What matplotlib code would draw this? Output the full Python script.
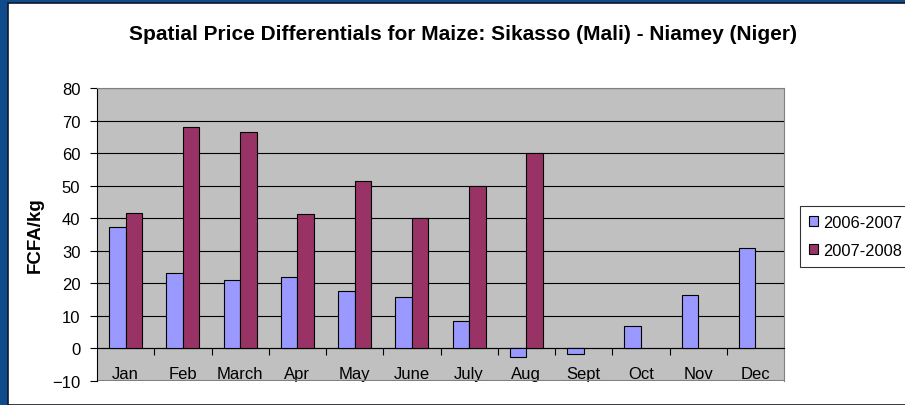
import numpy as np
import matplotlib.pyplot as plt
from matplotlib.patches import Rectangle

# Data
months = ["Jan", "Feb", "March", "Apr", "May", "June", "July", "Aug",
          "Sept", "Oct", "Nov", "Dec"]
season_0607 = [37.3, 23.3, 21.0, 21.9, 17.6, 15.8, 8.3, -2.6, -1.7, 7.0, 16.3, 30.7]
season_0708 = [41.7, 68.1, 66.4, 41.3, 51.3, 40.0, 50.0, 60.0, np.nan, np.nan, np.nan, np.nan]

plt.rcParams['font.family'] = ['Liberation Sans', 'DejaVu Sans']

fig = plt.figure(figsize=(9.05, 4.06), dpi=100)
fig.patch.set_facecolor('#0F4C8C')
# white chart area on top of the slide background
fig.patches.append(Rectangle((8 / 905, 0), 1, 1 - 4 / 406, transform=fig.transFigure,
                             facecolor='white', edgecolor='#101828', lw=1.2, zorder=-10))

ax = fig.add_axes([97 / 905, 1 - 382 / 406, (784 - 97) / 905, (382 - 89) / 406])
ax.set_facecolor('#C0C0C0')

x = np.arange(len(months))
w = 0.29
ax.bar(x - w / 2, season_0607, w, color='#9999FF', edgecolor='black', lw=0.8,
       label='2006-2007', zorder=3)
ax.bar(x + w / 2, season_0708, w, color='#993366', edgecolor='black', lw=0.8,
       label='2007-2008', zorder=3)

ax.set_xlim(-0.5, len(months) - 0.5)
ax.set_ylim(-10, 80)
ax.set_yticks(range(-10, 81, 10))
ax.grid(axis='y', color='black', lw=0.8, zorder=1)
ax.tick_params(axis='y', direction='out', length=5, color='black', labelsize=12, pad=7)

# category axis crosses at zero
ax.spines['bottom'].set_position(('data', 0))
ax.spines['bottom'].set_color('black')
ax.spines['left'].set_color('black')
for s in ['top', 'right']:
    ax.spines[s].set_color('#808080')
ax.axhline(-10, color='#808080', lw=1.5, zorder=2)

ax.set_xticks(np.arange(0.5, len(months) - 0.5, 1))
ax.set_xticklabels([])
ax.tick_params(axis='x', which='major', direction='out', length=5, color='black')
ax.set_xticks(x, minor=True)
ax.set_xticklabels(months, minor=True)
ax.tick_params(axis='x', which='minor', length=0, labelsize=12, pad=13)

ax.set_ylabel('FCFA/kg', fontsize=13.5, fontweight='bold', labelpad=6)
fig.text(463 / 905, 1 - 34 / 406,
         'Spatial Price Differentials for Maize: Sikasso (Mali) - Niamey (Niger)',
         ha='center', va='center', fontsize=15, fontweight='bold')

leg = ax.legend(loc='upper left', bbox_to_anchor=(800 / 905, 1 - 207 / 406),
                bbox_transform=fig.transFigure, fontsize=11.8, frameon=True,
                fancybox=False, edgecolor='black', borderaxespad=0,
                handlelength=0.55, handleheight=0.55, handletextpad=0.3,
                labelspacing=0.8, borderpad=0.55)
leg.get_frame().set_linewidth(0.8)

fig.savefig('out.png', dpi=100)
